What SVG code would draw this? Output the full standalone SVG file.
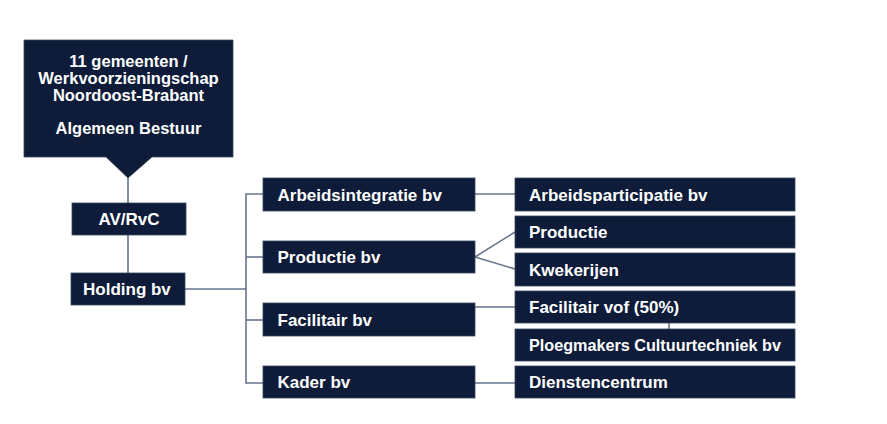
<svg xmlns="http://www.w3.org/2000/svg" width="887" height="424" viewBox="0 0 887 424">
<style>
.box{fill:#0e1c3a;stroke:#3a4660;stroke-width:0.8}
.t{font-family:"Liberation Sans",Arial,sans-serif;font-weight:bold;font-size:17px;fill:#ffffff}
.h{font-size:16.5px}
.c{fill:none;stroke:#66748c;stroke-width:1.6}
</style>
<rect width="887" height="424" fill="#ffffff"/>
<g id="connectors">
<line class="c" x1="128" y1="176" x2="128" y2="203"/>
<line class="c" x1="128" y1="235" x2="128" y2="273"/>
<polyline class="c" points="185,289 246,289"/>
<polyline class="c" points="263,194 246,194 246,383 263,383"/>
<line class="c" x1="246" y1="257" x2="263" y2="257"/>
<line class="c" x1="246" y1="320" x2="263" y2="320"/>
<line class="c" x1="475" y1="194" x2="515" y2="194"/>
<line class="c" x1="475" y1="257" x2="515" y2="232"/>
<line class="c" x1="475" y1="257" x2="515" y2="269"/>
<line class="c" x1="475" y1="307" x2="515" y2="307"/>
<line class="c" x1="669" y1="323" x2="669" y2="329"/>
<line class="c" x1="475" y1="383" x2="515" y2="383"/>
</g>
<g id="bestuur">
<path class="box" d="M24,40 H233 V157 H152 L128,178 L106,157 H24 Z"/>
<text class="t h" text-anchor="middle" x="128.5" y="67">11 gemeenten /</text>
<text class="t h" text-anchor="middle" x="128.5" y="84">Werkvoorzieningschap</text>
<text class="t h" text-anchor="middle" x="128.5" y="101">Noordoost-Brabant</text>
<text class="t h" text-anchor="middle" x="128.5" y="134">Algemeen Bestuur</text>
</g>
<g id="avrvc">
<rect class="box" x="72" y="203" width="114" height="32"/>
<text class="t" text-anchor="middle" x="129" y="225">AV/RvC</text>
</g>
<g id="holding">
<rect class="box" x="71" y="273" width="114" height="32"/>
<text class="t" x="83" y="295">Holding bv</text>
</g>
<g id="arbeidsintegratie">
<rect class="box" x="263" y="178" width="212" height="33"/>
<text class="t" x="277.5" y="200.5">Arbeidsintegratie bv</text>
</g>
<g id="productiebv">
<rect class="box" x="263" y="241" width="212" height="32"/>
<text class="t" x="277.5" y="263">Productie bv</text>
</g>
<g id="facilitairbv">
<rect class="box" x="263" y="303" width="212" height="33"/>
<text class="t" x="277.5" y="325.5">Facilitair bv</text>
</g>
<g id="kaderbv">
<rect class="box" x="263" y="366" width="212" height="32"/>
<text class="t" x="277.5" y="388">Kader bv</text>
</g>
<g id="arbeidsparticipatie">
<rect class="box" x="515" y="178" width="280" height="33"/>
<text class="t" x="529" y="200.5">Arbeidsparticipatie bv</text>
</g>
<g id="productie">
<rect class="box" x="515" y="216" width="280" height="32"/>
<text class="t" x="529" y="238">Productie</text>
</g>
<g id="kwekerijen">
<rect class="box" x="515" y="253" width="280" height="33"/>
<text class="t" x="529" y="275.5">Kwekerijen</text>
</g>
<g id="facilitairvof">
<rect class="box" x="515" y="291" width="280" height="32"/>
<text class="t" x="529" y="313">Facilitair vof (50%)</text>
</g>
<g id="ploegmakers">
<rect class="box" x="515" y="329" width="280" height="32"/>
<text class="t" x="529" y="351" style="font-size:16.2px">Ploegmakers Cultuurtechniek bv</text>
</g>
<g id="dienstencentrum">
<rect class="box" x="515" y="366" width="280" height="32"/>
<text class="t" x="529" y="388">Dienstencentrum</text>
</g>
</svg>
